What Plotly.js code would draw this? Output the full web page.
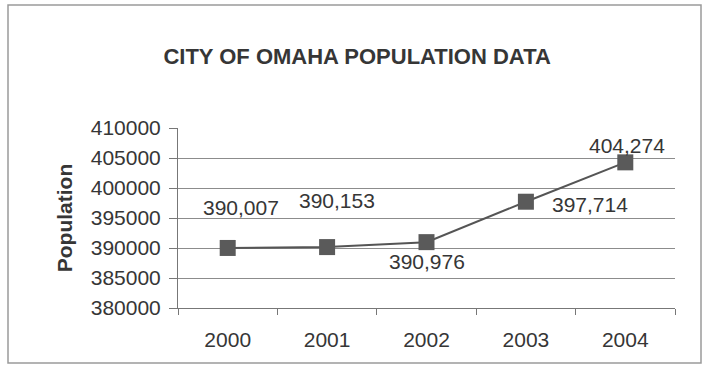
<!DOCTYPE html>
<html>
<head>
<meta charset="utf-8">
<script src="https://cdn.plot.ly/plotly-3.0.1.min.js"></script>
<style>
  html, body { margin: 0; padding: 0; background: #ffffff; }
  #chart { width: 703px; height: 366px; }
</style>
</head>
<body>
<div id="chart"></div>
<script>
// Omaha population, 2000-2004
const years = ['2000', '2001', '2002', '2003', '2004'];
const population = [390007, 390153, 390976, 397714, 404274];
const yTicks = [380000, 385000, 390000, 395000, 400000, 405000, 410000];

// pixel offsets for each value label relative to its point
const labelDx = [13, 10, 0, 64, 2];
const labelDy = [40, 47, -19, -3, 17];

const textColor = '#363636';
const fontFamily = '"Liberation Sans", Arial, sans-serif';

function withCommas(n) {
  return String(n).replace(/\B(?=(\d{3})+(?!\d))/g, ',');
}

const trace = {
  x: years,
  y: population,
  type: 'scatter',
  mode: 'lines+markers',
  line: { color: '#555555', width: 2 },
  marker: { symbol: 'square', size: 16, color: '#5a5a5a', line: { width: 0 } },
  hoverinfo: 'x+y'
};

// value labels, placed by category index on the x axis
const annotations = years.map((yr, i) => ({
  x: i,
  y: population[i],
  xref: 'x',
  yref: 'y',
  text: withCommas(population[i]),
  showarrow: false,
  xshift: labelDx[i],
  yshift: labelDy[i],
  font: { family: fontFamily, size: 21, color: textColor }
}));

const layout = {
  width: 703,
  height: 366,
  margin: { l: 178, r: 28, t: 128, b: 58 },
  paper_bgcolor: '#ffffff',
  plot_bgcolor: '#ffffff',
  showlegend: false,
  title: {
    text: '<b>CITY OF OMAHA POPULATION DATA</b>',
    font: { family: fontFamily, size: 22, color: '#363636' },
    x: 0.508,
    xanchor: 'center',
    y: 1 - 56 / 366,
    yanchor: 'middle',
    yref: 'container'
  },
  xaxis: {
    type: 'category',
    range: [-0.5, 4.5],
    tickson: 'boundaries',
    ticks: 'outside',
    ticklen: 6,
    tickcolor: '#777777',
    tickwidth: 1,
    showline: true,
    linecolor: '#777777',
    linewidth: 1,
    showgrid: false,
    zeroline: false,
    ticklabelstandoff: 13,
    tickfont: { family: fontFamily, size: 21, color: textColor },
    fixedrange: true
  },
  yaxis: {
    range: [380000, 410000],
    tickvals: yTicks,
    tickformat: 'd',
    ticks: 'outside',
    ticklen: 8,
    tickcolor: '#777777',
    tickwidth: 1,
    showline: true,
    linecolor: '#777777',
    linewidth: 1,
    showgrid: true,
    gridcolor: '#8c8c8c',
    gridwidth: 1,
    zeroline: false,
    ticklabelstandoff: 4,
    tickfont: { family: fontFamily, size: 21, color: textColor },
    title: {
      text: '<b>Population</b>',
      font: { family: fontFamily, size: 21, color: textColor },
      standoff: 12
    },
    automargin: false,
    fixedrange: true
  },
  annotations: annotations,
  shapes: [
    // outer chart frame
    {
      type: 'rect',
      xref: 'paper', yref: 'paper',
      x0: (8 - 178) / 497, x1: (701 - 178) / 497,
      y0: (308 - 363) / 180, y1: (308 - 5) / 180,
      line: { color: '#9a9a9a', width: 1.5 },
      fillcolor: 'rgba(0,0,0,0)',
      layer: 'below'
    }
  ]
};

Plotly.newPlot('chart', [trace], layout, { displayModeBar: false, staticPlot: true });
</script>
</body>
</html>
